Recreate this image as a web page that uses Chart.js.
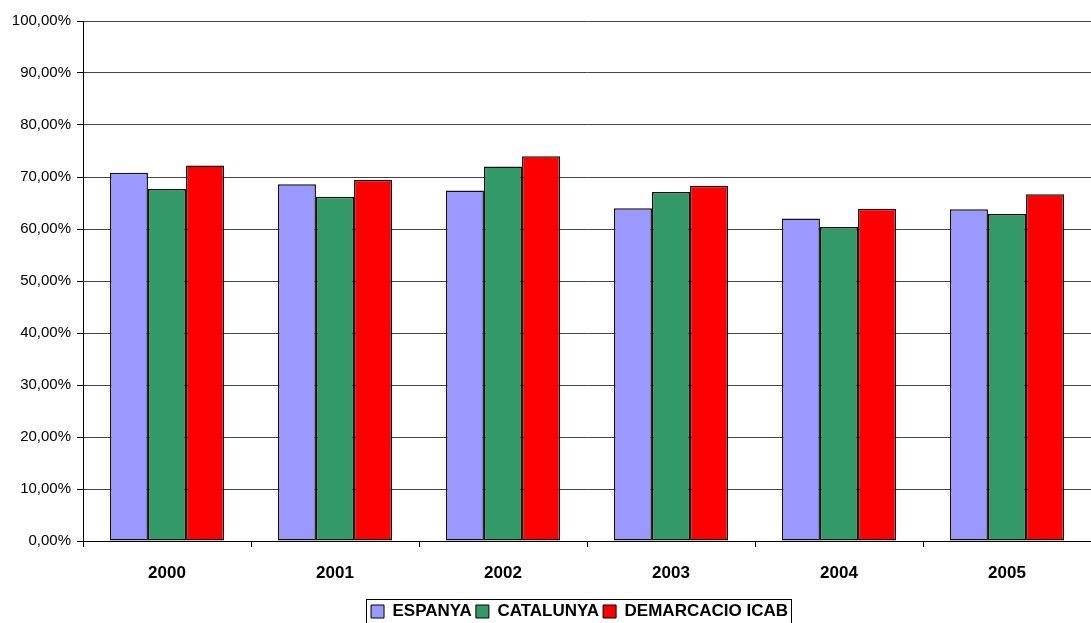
<!DOCTYPE html>
<html>
<head>
<meta charset="utf-8">
<script src="https://cdn.jsdelivr.net/npm/chart.js@4/dist/chart.umd.min.js"></script>
<style>
  html, body { margin: 0; padding: 0; background: #fff; }
  #wrap { width: 1091px; height: 623px; }
</style>
</head>
<body>
<div id="wrap"><canvas id="chart"></canvas></div>
<script>
// ----- Data -----
const years = ["2000", "2001", "2002", "2003", "2004", "2005"];
const espanya = [70.8, 68.6, 67.4, 64.0, 62.0, 63.8];
const catalunya = [67.7, 66.2, 72.0, 67.1, 60.4, 62.9];
const demarcacio = [72.2, 69.4, 74.0, 68.3, 63.9, 66.7];
const seriesNames = ["ESPANYA", "CATALUNYA", "DEMARCACIO ICAB"];
const seriesColors = ["#9999ff", "#339966", "#ff0000"];

// ----- Legend: shift under the plot area and draw a frame -----
const legendBox = {
  id: "legendBox",
  afterLayout(chart) {
    const lg = chart.legend;
    lg.left += 34; lg.right += 34;
    lg.top += 7; lg.bottom += 7;
  },
  afterDraw(chart) {
    const boxes = chart.legend.legendHitBoxes;
    if (!boxes || !boxes.length) return;
    const left = Math.min(...boxes.map(b => b.left)) - 5;
    const right = Math.max(...boxes.map(b => b.left + b.width)) + 3;
    const top = Math.min(...boxes.map(b => b.top)) - 4;
    const ctx = chart.ctx;
    ctx.save();
    ctx.strokeStyle = "#000";
    ctx.lineWidth = 1;
    ctx.strokeRect(Math.round(left) + 0.5, Math.round(top) + 0.5, Math.round(right - left), 40);
    ctx.restore();
  }
};

const ctx = document.getElementById("chart").getContext("2d");
new Chart(ctx, {
  type: "bar",
  data: {
    labels: years,
    datasets: [espanya, catalunya, demarcacio].map((d, i) => ({
      label: seriesNames[i],
      data: d,
      backgroundColor: seriesColors[i],
      borderColor: "#111",
      borderWidth: 1.5,
      borderSkipped: false,
      categoryPercentage: 0.68,
      barPercentage: 1
    }))
  },
  options: {
    responsive: true,
    maintainAspectRatio: false,
    animation: false,
    layout: { padding: { top: 21, right: 0, left: 0, bottom: 0 } },
    plugins: {
      tooltip: { enabled: false },
      legend: {
        position: "bottom",
        labels: {
          color: "#000",
          font: { family: "Arial, 'Liberation Sans'", size: 17, weight: "bold" },
          boxWidth: 13,
          boxHeight: 13,
          padding: 4,
          generateLabels(chart) {
            return chart.data.datasets.map((ds, i) => ({
              text: ds.label,
              fillStyle: ds.backgroundColor,
              strokeStyle: "#000",
              lineWidth: 1,
              datasetIndex: i
            }));
          }
        }
      }
    },
    scales: {
      x: {
        grid: { offset: true, drawOnChartArea: false, color: "#000", tickLength: 6 },
        border: { color: "#000" },
        ticks: {
          color: "#000",
          font: { family: "Arial, 'Liberation Sans'", size: 17, weight: "bold" },
          padding: 16
        },
        afterFit(scale) {
          scale.height = 623 - 541 - scale.chart.legend.height;
        }
      },
      y: {
        min: 0,
        max: 100,
        ticks: {
          stepSize: 10,
          color: "#000",
          font: { family: "Arial, 'Liberation Sans'", size: 15 },
          padding: 6,
          callback: v => v.toFixed(2).replace(".", ",") + "%"
        },
        grid: { color: "#444", tickLength: 6, tickColor: "#000" },
        border: { color: "#000" },
        afterFit(scale) {
          scale.width = 83;
        }
      }
    }
  },
  plugins: [legendBox]
});
</script>
</body>
</html>
